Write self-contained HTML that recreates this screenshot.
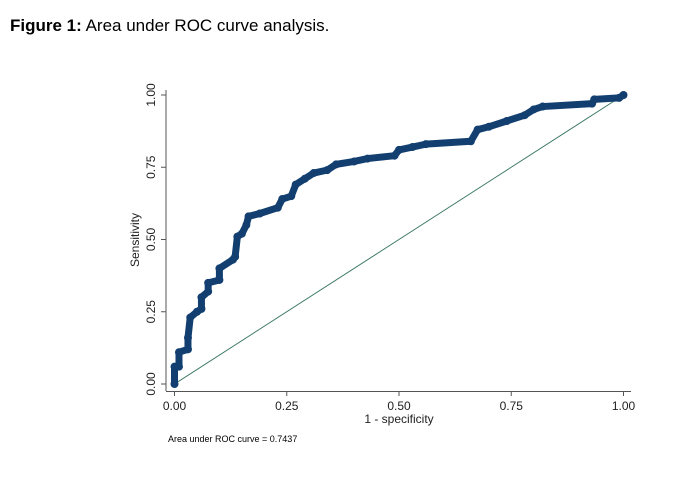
<!DOCTYPE html>
<html><head><meta charset="utf-8"><style>
body{margin:0;background:#fff;width:677px;height:476px;overflow:hidden;font-family:"Liberation Sans",sans-serif}
</style></head><body>
<svg width="677" height="476" xmlns="http://www.w3.org/2000/svg" font-family="Liberation Sans, sans-serif">
<text x="10" y="31" font-size="17" fill="#000"><tspan font-weight="bold">Figure 1:</tspan> Area under ROC curve analysis.</text>
<g id="plot"></g>
<text x="168" y="442" font-size="9" fill="#000">Area under ROC curve = 0.7437</text>
</svg>
<script>
const fpr=[0,0,0.01,0.01,0.03,0.03,0.035,0.05,0.06,0.06,0.075,0.075,0.1,0.1,0.13,0.135,0.14,0.15,0.16,0.165,0.19,0.23,0.24,0.26,0.27,0.29,0.31,0.34,0.36,0.40,0.43,0.49,0.5,0.53,0.56,0.66,0.675,0.7,0.74,0.78,0.8,0.82,0.93,0.935,0.99,1];
const tpr=[0,0.06,0.06,0.11,0.12,0.16,0.23,0.25,0.26,0.30,0.32,0.35,0.36,0.40,0.43,0.44,0.51,0.52,0.55,0.58,0.59,0.61,0.64,0.65,0.69,0.71,0.73,0.74,0.76,0.77,0.78,0.79,0.81,0.82,0.83,0.84,0.88,0.89,0.91,0.93,0.95,0.96,0.97,0.985,0.99,1];
const xTicks=[0,0.25,0.5,0.75,1];
const yTicks=[0,0.25,0.5,0.75,1];
const tickLabels=["0.00","0.25","0.50","0.75","1.00"];
const X=v=>174.5+v*449, Y=v=>384-v*289;
const g=document.getElementById('plot');const NS="http://www.w3.org/2000/svg";
function mk(t,a,p){const e=document.createElementNS(NS,t);for(const k in a)e.setAttribute(k,a[k]);(p||g).appendChild(e);return e;}
let e;
e=mk('line',{x1:166,y1:90,x2:166,y2:391,stroke:'#555','stroke-width':1});


e=mk('line',{x1:166,y1:391.5,x2:631,y2:391.5,stroke:'#555','stroke-width':1});


xTicks.forEach((v,i)=>{
 e=mk('line',{x1:X(v),y1:391,x2:X(v),y2:396,stroke:'#555'});
 
 
 e=mk('text',{x:X(v),y:410,'font-size':12,'text-anchor':'middle',fill:'#222'});e.textContent=tickLabels[i];
 
 
});
yTicks.forEach((v,i)=>{
 e=mk('line',{x1:161,y1:Y(v),x2:166,y2:Y(v),stroke:'#555'});
 
 
 e=mk('text',{x:0,y:0,'font-size':12,'text-anchor':'middle',fill:'#222',transform:`translate(155,${Y(v)}) rotate(-90)`});e.textContent=tickLabels[i];
 
 
});
e=mk('text',{x:399,y:423,'font-size':12,'text-anchor':'middle',fill:'#222'});e.textContent='1 - specificity';


e=mk('text',{x:0,y:0,'font-size':12,'text-anchor':'middle',fill:'#222',transform:'translate(139,240) rotate(-90)'});e.textContent='Sensitivity';


e=mk('line',{x1:X(0),y1:Y(0),x2:X(1),y2:Y(1),stroke:'#3d7a62','stroke-width':1});


const pts=fpr.map((f,i)=>X(f)+','+Y(tpr[i])).join(' ');
e=mk('polyline',{points:pts,fill:'none',stroke:'#123f70','stroke-width':7,'stroke-linejoin':'round','stroke-linecap':'round'});


fpr.forEach((f,i)=>{
 e=mk('circle',{cx:X(f),cy:Y(tpr[i]),r:4,fill:'#123f70'});
 
 
});
</script>
</body></html>
